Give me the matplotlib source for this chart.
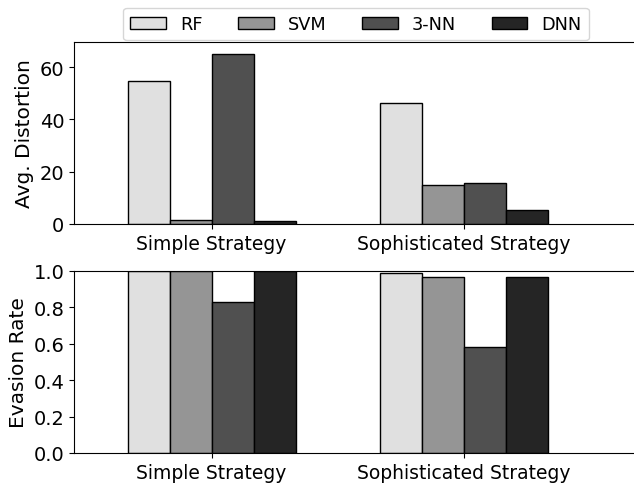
import numpy as np
import matplotlib.pyplot as plt

groups = ['Simple Strategy', 'Sophisticated Strategy']
methods = ['RF', 'SVM', '3-NN', 'DNN']
colors = ['#e0e0e0', '#959595', '#505050', '#252525']

distortion = {
    'RF': [54.8, 46.3],
    'SVM': [1.4, 14.8],
    '3-NN': [65.0, 15.8],
    'DNN': [1.0, 5.4],
}
evasion = {
    'RF': [1.0, 0.99],
    'SVM': [1.0, 0.964],
    '3-NN': [0.83, 0.58],
    'DNN': [1.0, 0.964],
}

plt.rcParams['font.size'] = 13.5

fig = plt.figure(figsize=(6.34, 4.89), dpi=100)
ax1 = fig.add_axes([0.1167, 0.540, 0.8833, 0.3727])
ax2 = fig.add_axes([0.1167, 0.0716, 0.8833, 0.3728])

x = np.arange(len(groups))
w = 1 / 6
offsets = [-1.5, -0.5, 0.5, 1.5]

for ax, data in [(ax1, distortion), (ax2, evasion)]:
    for m, c, o in zip(methods, colors, offsets):
        ax.bar(x + o * w, data[m], w, color=c, edgecolor='black', linewidth=1.0, label=m)
    ax.set_xticks(x)
    ax.set_xticklabels(groups)
    ax.set_xlim(-0.546, -0.546 + 0.8833 * 634 / 252)
    ax.spines['right'].set_visible(False)
    ax.tick_params(axis='y', labelsize=14)

ax1.set_ylim(0, 69.7)
ax1.set_yticks([0, 20, 40, 60])
ax1.set_ylabel('Avg. Distortion', fontsize=14.5)
ax2.set_ylim(0, 1.0)
ax2.set_yticks([0, 0.2, 0.4, 0.6, 0.8, 1.0])
ax2.set_ylabel('Evasion Rate', fontsize=14.5)

ax1.legend(loc='upper center', bbox_to_anchor=(0.5615, 1.0), bbox_transform=fig.transFigure,
           ncol=4, fontsize=12.8)

fig.savefig('out.png', dpi=100)
